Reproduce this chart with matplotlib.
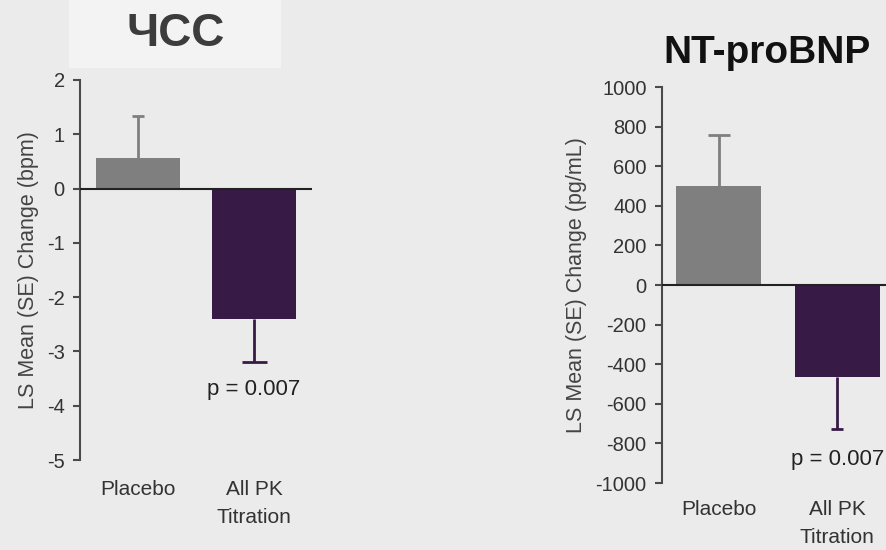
import numpy as np
import matplotlib
matplotlib.use('Agg')
import matplotlib.pyplot as plt
from matplotlib.patches import Rectangle

plt.rcParams['font.family'] = ['Liberation Sans', 'DejaVu Sans']
plt.rcParams['axes.unicode_minus'] = False

categories = ['Placebo', 'All PK\nTitration']
hr_values = [0.57, -2.4]          # bpm
hr_err = [0.77, 0.8]              # one-sided SE
bnp_values = [500, -465]          # pg/mL
bnp_err = [258, 262]
p_text = 'p = 0.007'

bar_colors = ['#7f7f7f', '#381a46']
bg = '#ebebeb'
axis_col = '#4a4a4a'

fig = plt.figure(figsize=(8.86, 5.5), dpi=100, facecolor=bg)


def draw_panel(ax, values, errs, ylim, yticks, ylabel, caps, xlim, ptxt_y, cat_y):
    x = np.arange(len(values))
    ax.set_facecolor(bg)
    ax.bar(x, values, width=0.72, color=bar_colors, zorder=2)
    for i in range(len(values)):
        end = values[i] + np.sign(values[i]) * errs[i]
        ax.vlines(x[i], values[i], end, color=bar_colors[i], lw=2, zorder=1)
        ax.plot(x[i], end, marker='_', ms=caps[i], mew=2,
                color=bar_colors[i], zorder=1)
    ax.axhline(0, color='#222222', lw=1.5, zorder=3)
    ax.set_xlim(*xlim)
    ax.set_ylim(*ylim)
    ax.set_yticks(yticks)
    ax.set_xticks([])
    for s in ['top', 'right', 'bottom']:
        ax.spines[s].set_visible(False)
    ax.spines['left'].set_color(axis_col)
    ax.spines['left'].set_linewidth(1.5)
    ax.tick_params(axis='y', direction='out', length=5, width=1.5,
                   color=axis_col, labelsize=14.5, labelcolor='#333333', pad=6)
    ax.set_ylabel(ylabel, fontsize=15.5, color='#444444', labelpad=6)
    ax.text(1, ptxt_y, p_text, ha='center', va='center', fontsize=16,
            color='#222222')
    for i, c in enumerate(categories):
        ax.text(x[i], cat_y, c, ha='center', va='top', fontsize=15,
                color='#333333', linespacing=1.6)


ax1 = fig.add_axes([0.0903, 0.1636, 0.262, 0.691])
draw_panel(ax1, hr_values, hr_err, (-5, 2), list(range(-5, 3)),
           'LS Mean (SE) Change (bpm)', [9, 18], (-0.5, 1.5), -3.7, -5.36)

ax2 = fig.add_axes([0.747, 0.1218, 0.2528, 0.72])
draw_panel(ax2, bnp_values, bnp_err, (-1000, 1000),
           list(range(-1000, 1001, 200)),
           'LS Mean (SE) Change (pg/mL)', [16, 9], (-0.48, 1.41), -880, -1085)

# title box for the left panel
fig.patches.append(Rectangle((0.0779, 0.876), 0.239, 0.124,
                             transform=fig.transFigure, facecolor='#f3f3f3',
                             edgecolor='none', zorder=0))
fig.text(0.198, 1 - 34 / 550, 'ЧСС', ha='center', va='center',
         fontsize=33, fontweight='bold', color='#3c3c3c')
fig.text(0.866, 1 - 53 / 550, 'NT-proBNP', ha='center', va='center',
         fontsize=28, fontweight='bold', color='#111111')

fig.savefig('out.png', dpi=100, facecolor=bg)
